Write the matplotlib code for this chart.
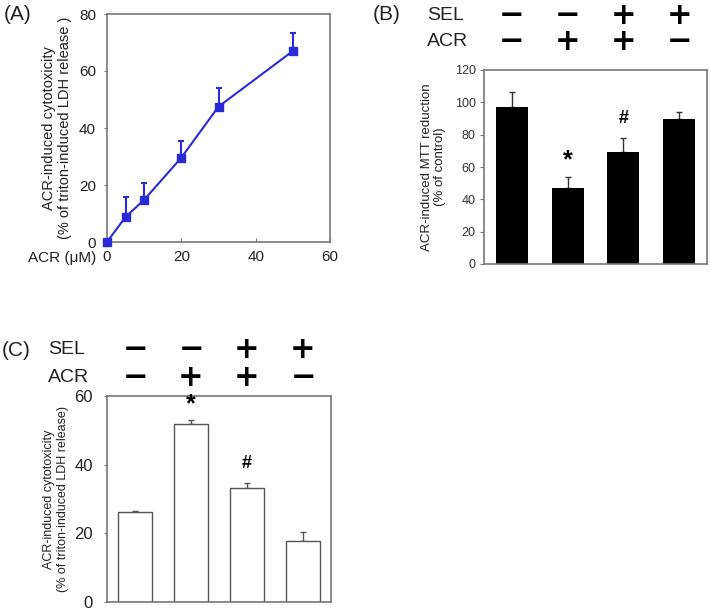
import numpy as np
import matplotlib
matplotlib.use('Agg')
import matplotlib.pyplot as plt
from matplotlib.transforms import blended_transform_factory

plt.rcParams['font.family'] = ['Liberation Sans', 'DejaVu Sans']

# Panel A: dose response
acr_conc = [0, 5, 10, 20, 30, 50]
ldh_mean = [0, 8.8, 14.8, 29.6, 47.5, 67.0]
ldh_err = [0, 7.0, 6.0, 6.0, 6.7, 6.2]

# Panel B: MTT
mtt_mean = [97, 47, 69, 89.5]
mtt_err = [9.5, 7, 9, 4.5]

# Panel C: LDH with SEL
ldh_c_mean = [26.3, 51.9, 33.2, 17.8]
ldh_c_err = [0.3, 1.1, 1.5, 2.6]

sel_signs = ['\u2212', '\u2212', '+', '+']
acr_signs = ['\u2212', '+', '+', '\u2212']
sig_marks = ['', '*', '#', '']

spine_col = '#777777'
text_col = '#222222'
W, H = 710, 615

fig = plt.figure(figsize=(7.1, 6.15), dpi=100)


def ax_rect(x0, y0, x1, y1):
    return [x0 / W, 1 - y1 / H, (x1 - x0) / W, (y1 - y0) / H]


def style_spines(ax):
    for s in ax.spines.values():
        s.set_color(spine_col)
        s.set_linewidth(1.2)


# ---------- (A) ----------
axA = fig.add_axes(ax_rect(107, 14, 330, 242))
axA.errorbar(acr_conc, ldh_mean, yerr=[np.zeros(len(ldh_err)), ldh_err],
             color='#2a2ad6', marker='s', markersize=6, linewidth=1.5,
             capsize=2.5, elinewidth=1.5, capthick=1.5, clip_on=False, zorder=3)
axA.set_xlim(0, 60)
axA.set_ylim(0, 80)
axA.set_xticks([0, 20, 40, 60])
axA.set_yticks([0, 20, 40, 60, 80])
axA.tick_params(axis='x', direction='in', length=3, color=spine_col,
                labelsize=11, labelcolor=text_col, pad=6)
axA.tick_params(axis='y', direction='out', length=2, color=spine_col,
                labelsize=11, labelcolor=text_col, pad=6)
style_spines(axA)
axA.set_ylabel('ACR-induced cytotoxicity\n(% of triton-induced LDH release )',
               fontsize=10.5, color=text_col, labelpad=5)
fig.text(4 / W, 1 - 15 / H, '(A)', fontsize=15, va='center', ha='left', color=text_col)
fig.text(96 / W, 1 - 258 / H, 'ACR (\u03bcM)', fontsize=11, va='center', ha='right',
         color=text_col)


def header(ax, x_label, y_sel, y_acr, panel, x_panel):
    tr = blended_transform_factory(ax.transData, fig.transFigure)
    fig.text(x_panel / W, 1 - y_sel / H, panel, fontsize=15, va='center', ha='left',
             color=text_col)
    fig.text(x_label / W, 1 - y_sel / H, 'SEL', fontsize=14, va='center', ha='left',
             color=text_col)
    fig.text(x_label / W, 1 - y_acr / H, 'ACR', fontsize=14, va='center', ha='left',
             color=text_col)
    for i, (s, a) in enumerate(zip(sel_signs, acr_signs)):
        ax.text(i, 1 - y_sel / H, s, transform=tr, fontsize=22, fontweight='bold',
                ha='center', va='center', family='DejaVu Sans')
        ax.text(i, 1 - y_acr / H, a, transform=tr, fontsize=22, fontweight='bold',
                ha='center', va='center', family='DejaVu Sans')


# ---------- (B) ----------
axB = fig.add_axes(ax_rect(484, 70, 707, 264))
pos = np.arange(len(mtt_mean))
axB.bar(pos, mtt_mean, width=0.57, color='black', zorder=2)
axB.errorbar(pos, mtt_mean, yerr=[np.zeros(len(mtt_err)), mtt_err], fmt='none',
             ecolor='#333333', elinewidth=1, capsize=2, capthick=1, zorder=1)
axB.set_xlim(-0.5, 3.5)
axB.set_ylim(0, 120)
axB.set_yticks(range(0, 121, 20))
axB.set_xticks([])
axB.tick_params(axis='y', direction='out', length=3, color=spine_col,
                labelsize=9, labelcolor='#333333', pad=3)
for lab in axB.get_yticklabels():
    lab.set_family(['Liberation Sans Narrow', 'Liberation Sans'])
style_spines(axB)
axB.set_ylabel('ACR-induced MTT reduction\n(% of control)', fontsize=9.5,
               color=text_col, labelpad=6)
for i, m in enumerate(sig_marks):
    if m:
        off = 12 if m == '*' else 14
        axB.annotate(m, (i, mtt_mean[i] + mtt_err[i]), xytext=(0, off),
                     textcoords='offset points', ha='center', va='center',
                     fontsize=18 if m == '*' else 13, fontweight='bold')
header(axB, 427, 15, 42, '(B)', 373)

# ---------- (C) ----------
axC = fig.add_axes(ax_rect(107, 396, 331, 602))
axC.bar(pos, ldh_c_mean, width=0.59, color='white', edgecolor='#555555',
        linewidth=1, zorder=2)
axC.errorbar(pos, ldh_c_mean, yerr=[np.zeros(len(ldh_c_err)), ldh_c_err], fmt='none',
             ecolor='#555555', elinewidth=1, capsize=2, capthick=1, zorder=1)
axC.set_xlim(-0.5, 3.5)
axC.set_ylim(0, 60)
axC.set_yticks([0, 20, 40, 60])
axC.set_xticks([])
axC.tick_params(axis='y', direction='out', length=2, color=spine_col,
                labelsize=12, labelcolor=text_col, pad=8)
style_spines(axC)
axC.set_ylabel('ACR-induced cytotoxicity\n(% of triton-induced LDH release)',
               fontsize=9, color=text_col, labelpad=4)
for i, m in enumerate(sig_marks):
    if m:
        off = 11 if m == '*' else 14
        axC.annotate(m, (i, ldh_c_mean[i] + ldh_c_err[i]), xytext=(0, off),
                     textcoords='offset points', ha='center', va='center',
                     fontsize=18 if m == '*' else 13, fontweight='bold')
header(axC, 48, 350, 378, '(C)', 2)

fig.savefig('out.png', dpi=100)
